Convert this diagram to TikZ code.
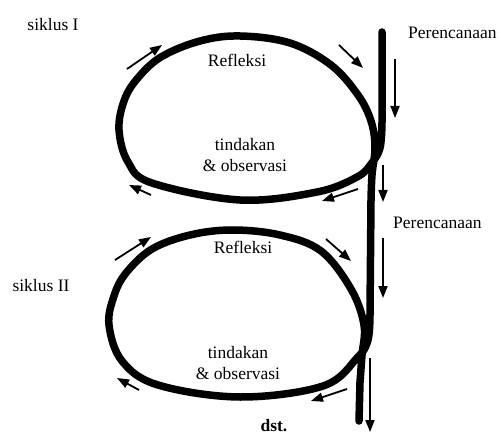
\documentclass[tikz,border=0pt]{standalone}
\usepackage{fontspec}
\setmainfont{Liberation Serif}
\usetikzlibrary{arrows.meta}
\begin{document}
\begin{tikzpicture}[x=1bp,y=1bp,
  cycleline/.style={line width=7.5bp, line cap=round, line join=round},
  flow/.style={line width=1.8bp, -{Triangle[length=12bp,width=9bp]}},
  lbl/.style={font=\fontsize{17.5bp}{21bp}\selectfont, inner sep=0pt, align=center}]
\useasboundingbox (0,0) rectangle (502,-436);
% loops as one continuous line
\draw[cycleline] (382,-32) -- (382,-122)
  -- plot[smooth, tension=0.6] coordinates {
    (382,-122) (380,-148) (371,-164) (357,-177) (317,-192) (240,-200)
    (152,-183) (128,-162) (119,-130) (124,-101) (137,-79) (161,-57)
    (200,-41) (240,-36) (290,-43) (331,-65) (358,-95) (371,-121)
    (375,-147) (372,-175) (371,-200)}
  -- (370,-312)
  -- plot[smooth, tension=0.6] coordinates {
    (370,-312) (368,-340) (357,-358) (323,-386) (240,-397)
    (158,-385) (122,-361) (109,-325) (114,-296) (126,-273) (152,-249)
    (190,-235) (232,-230) (280,-235) (321,-251) (351,-289) (364,-325)
    (362,-355) (360,-382)}
  -- (359,-421);
% arrows, cycle I
\draw[flow] (127,-69) -- (162,-45);
\draw[flow] (339,-45) -- (363,-68);
\draw[flow] (395,-59) -- (395,-118);
\draw[flow] (383,-165) -- (383,-202);
\draw[flow] (358,-189) -- (322,-201);
\draw[flow] (151,-195) -- (129,-185);
% arrows, cycle II
\draw[flow] (115,-260) -- (151,-237);
\draw[flow] (326,-239) -- (351,-261);
\draw[flow] (383,-238) -- (383,-298);
\draw[flow] (347,-389) -- (311,-401);
\draw[flow] (139,-390) -- (117,-378);
\draw[flow] (370,-358) -- (370,-432);
% labels
\node[lbl] (s1) at (53,-25) {siklus I};
\node[lbl, anchor=west] (p1) at (408,-33) {Perencanaan};
\node[lbl] (r1) at (237,-60) {Refleksi};
\node[lbl] (t1) at (245,-155) {tindakan\\\& observasi};
\node[lbl, anchor=west] (p2) at (393,-223) {Perencanaan};
\node[lbl] (r2) at (243,-247) {Refleksi};
\node[lbl] (s2) at (41,-286) {siklus II};
\node[lbl] (t2) at (238,-363) {tindakan\\\& observasi};
\node[font=\fontsize{17.5bp}{21bp}\selectfont\bfseries, inner sep=0pt, anchor=base] (d) at (274,-431) {dst.};
\end{tikzpicture}
\end{document}
